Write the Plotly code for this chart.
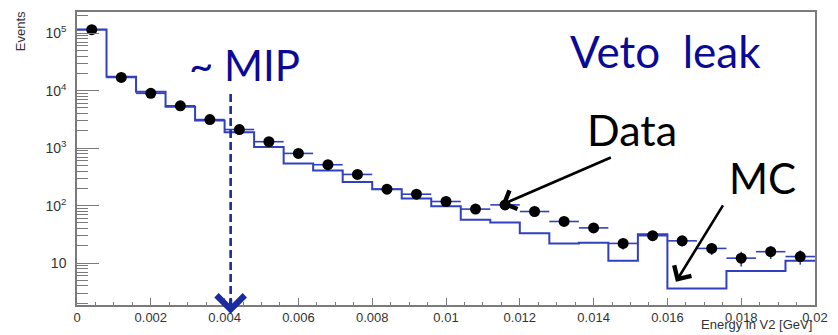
import numpy as np
import plotly.graph_objects as go

# ---- data ----
bin_width = 0.0008
n_bins = 25
data_counts = [115000, 17000, 9000, 5460, 3140, 2110, 1295, 810, 515, 349,
               193, 158, 118, 87, 103, 79, 53, 41, 22, 30,
               24.4, 18, 12.2, 15.8, 13]
data_errors = [339, 130, 95, 74, 56, 46, 36, 28.5, 22.7, 18.7,
               13.9, 12.6, 10.9, 9.3, 10.1, 8.9, 7.3, 6.4, 4.7, 5.5,
               4.9, 4.2, 3.5, 4.0, 3.6]
mc_counts = [116000, 17500, 9600, 5250, 3020, 1900, 1050, 540, 410, 257,
             193, 133, 98, 57, 51, 33, 22, 22.5, 11, 31.8,
             3.6, 3.6, 7.3, 7.3, 11]
x_tickvals = [0, 0.002, 0.004, 0.006, 0.008, 0.01, 0.012, 0.014, 0.016, 0.018, 0.02]
x_ticktext = ["0", "0.002", "0.004", "0.006", "0.008", "0.01", "0.012", "0.014", "0.016", "0.018", "0.02"]
y_tickvals = [10, 100, 1000, 10000, 100000]
y_ticktext = ["10", "10<sup>2</sup>", "10<sup>3</sup>", "10<sup>4</sup>", "10<sup>5</sup>"]
mip_energy = 0.004164

edges = np.arange(n_bins + 1) * bin_width
centers = (edges[:-1] + edges[1:]) / 2

NAVY = "#0a0a96"
BLUE = "#3040c0"
GRAY = "#7a7a7a"
XTICKFONT = dict(family="Liberation Sans, Arial, sans-serif", size=13, color="#333333")
YTICKFONT = dict(family="Liberation Sans, Arial, sans-serif", size=14, color="#333333")
BIG = "Lato, Open Sans, sans-serif"

fig = go.Figure()
fig.add_trace(go.Scatter(
    x=list(edges), y=mc_counts + [mc_counts[-1]],
    mode="lines", line=dict(shape="hv", color=BLUE, width=2),
    showlegend=False, hoverinfo="skip"))
fig.add_trace(go.Scatter(
    x=list(centers), y=data_counts, mode="markers",
    marker=dict(color="black", size=11),
    error_x=dict(type="constant", value=bin_width / 2, color=BLUE, thickness=1.6, width=0),
    error_y=dict(type="data", array=data_errors, color=BLUE, thickness=1.6, width=0),
    showlegend=False))

# ~MIP dashed line
fig.add_shape(type="line", xref="x", yref="paper", x0=mip_energy, x1=mip_energy,
              y0=0.72, y1=0.0, line=dict(color="#1a2aa0", width=2.6, dash="8px,4px"))

ann = []
ann.append(dict(xref="x", yref="paper", x=mip_energy, y=-0.03, ax=0, ay=-16,
                text="", showarrow=True, arrowhead=4, arrowsize=1.7, arrowwidth=3.2,
                arrowcolor="#1a2aa0"))
ann.append(dict(xref="x", yref="y", x=0.0115, y=np.log10(103), ax=111, ay=-48,
                text="", showarrow=True, arrowhead=4, arrowsize=1.5, arrowwidth=2.6,
                arrowcolor="black"))
ann.append(dict(xref="x", yref="y", x=0.01623, y=0.674, ax=48, ay=-78,
                text="", showarrow=True, arrowhead=4, arrowsize=1.5, arrowwidth=2.6,
                arrowcolor="black"))
ann.append(dict(xref="paper", yref="paper", x=0.1494, y=0.818, xanchor="left", yanchor="middle",
                text="~ MIP", showarrow=False, font=dict(family=BIG, size=42, color=NAVY)))
ann.append(dict(xref="paper", yref="paper", x=0.6658, y=0.8686, xanchor="left", yanchor="middle",
                text="Veto  leak", showarrow=False, font=dict(family=BIG, size=44, color=NAVY)))
ann.append(dict(xref="paper", yref="paper", x=0.6878, y=0.599, xanchor="left", yanchor="middle",
                text="Data", showarrow=False, font=dict(family=BIG, size=43, color="black")))
ann.append(dict(xref="paper", yref="paper", x=0.881, y=0.4338, xanchor="left", yanchor="middle",
                text="MC", showarrow=False, font=dict(family=BIG, size=42, color="black")))
ann.append(dict(xref="paper", yref="paper", x=-0.0767, y=0.936, xanchor="center", yanchor="middle",
                text="Events", textangle=-90, showarrow=False,
                font=dict(family="Liberation Sans, Arial, sans-serif", size=13, color="#333333")))
ann.append(dict(xref="paper", yref="paper", x=0.9973, y=-0.0954, xanchor="right", yanchor="bottom",
                text="Energy in V2 [GeV]", showarrow=False, borderpad=0,
                font=dict(family="Liberation Sans, Arial, sans-serif", size=13, color="#333333")))

y_minor = [m * 10 ** d for d in range(0, 6) for m in range(2, 10)]
x_minor = list(np.arange(0, 0.02001, 0.0005))

fig.update_layout(
    width=838, height=335, margin=dict(l=77, r=18, t=10, b=28),
    paper_bgcolor="white", plot_bgcolor="white",
    annotations=ann,
    xaxis=dict(range=[0, 0.02], showgrid=False, zeroline=False,
               showline=True, linecolor=GRAY, linewidth=1.5, mirror=True,
               ticks="inside", ticklen=7, tickwidth=1.3, tickcolor=GRAY,
               tickmode="array", tickvals=x_tickvals, ticktext=x_ticktext,
               tickfont=XTICKFONT, ticklabelstandoff=0,
               minor=dict(ticks="inside", ticklen=3.5, tickwidth=1.3, tickcolor=GRAY,
                          tickmode="array", tickvals=x_minor, showgrid=False)),
    yaxis=dict(type="log", range=[0.271, 5.369], showgrid=False, zeroline=False,
               showline=True, linecolor=GRAY, linewidth=1.5, mirror=True,
               ticks="inside", ticklen=22, tickwidth=1.3, tickcolor=GRAY,
               tickmode="array", tickvals=y_tickvals, ticktext=y_ticktext,
               tickfont=YTICKFONT, ticklabelstandoff=6,
               minor=dict(ticks="inside", ticklen=11, tickwidth=1.3, tickcolor=GRAY,
                          tickmode="array", tickvals=y_minor, showgrid=False)),
)

fig.write_html("out.html")
